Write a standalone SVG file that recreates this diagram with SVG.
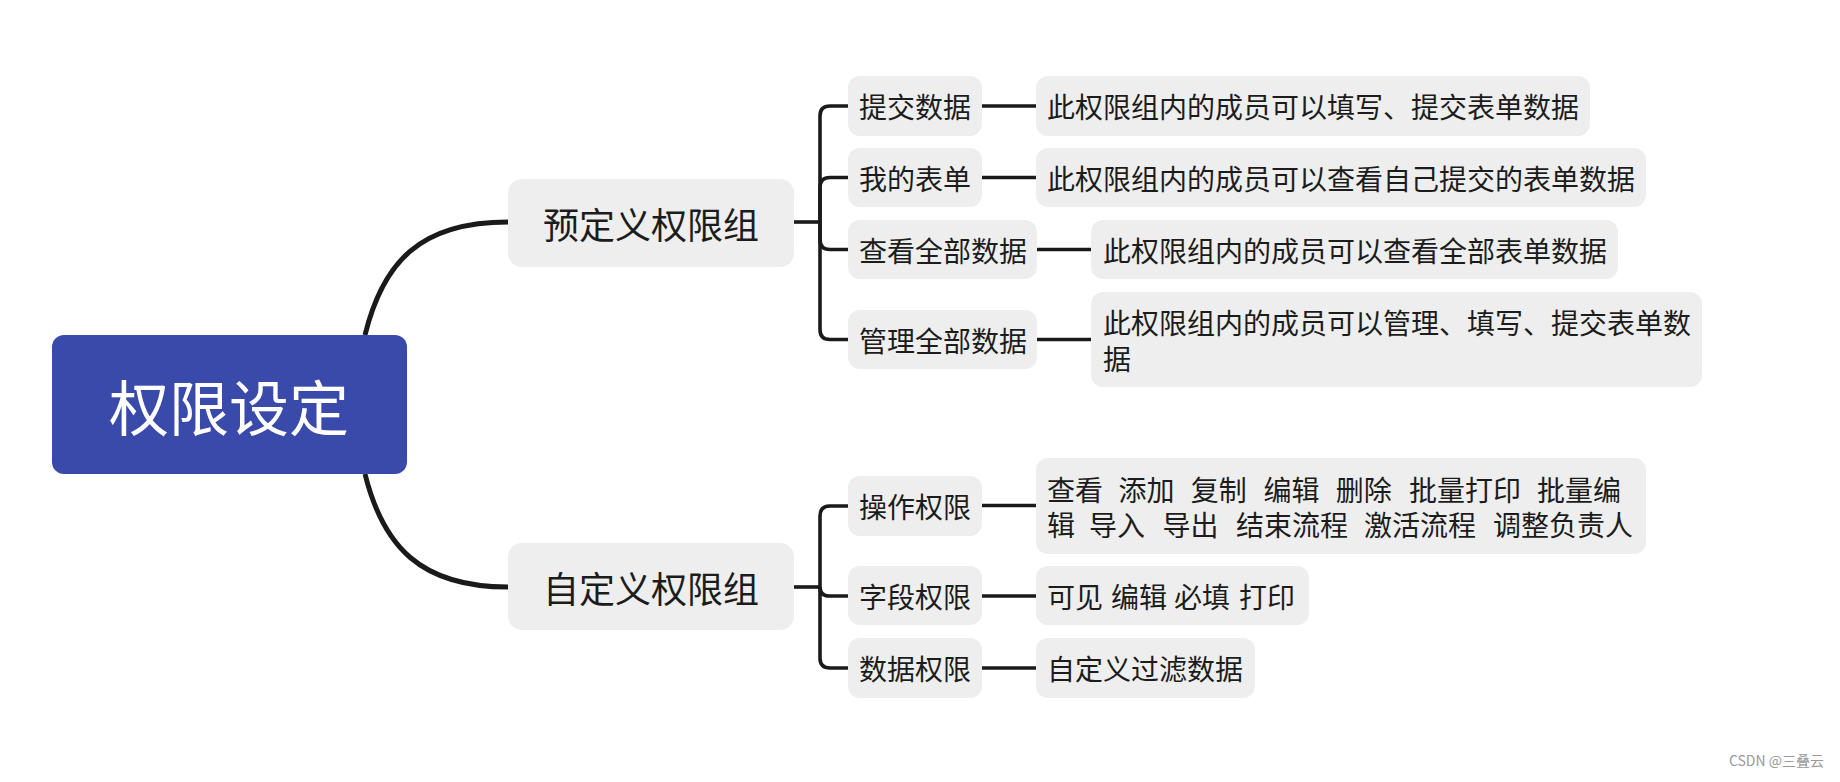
<svg xmlns="http://www.w3.org/2000/svg" width="1840" height="782" viewBox="0 0 1840 782">
<style>
.n{fill:#eeeeee}
.t{font-family:"Noto Sans CJK SC","Liberation Sans",sans-serif;fill:#1c1c1c;dominant-baseline:central}
.t2{font-size:28px}
.t1{font-size:36px}
.c{fill:none;stroke:#1a1a1a;stroke-width:3.6;stroke-linecap:butt}
.cr{fill:none;stroke:#1a1a1a;stroke-width:5}
</style>
<rect width="1840" height="782" fill="#ffffff"/>
<g id="connectors">
<path class="cr" d="M365 335 C383 262 420 222 508 222"/>
<path class="cr" d="M365 474 C383 546 420 587 508 587"/>
<path class="c" d="M794 222 H820"/>
<path class="c" d="M820 222 V116 Q820 106 830 106 H848"/>
<path class="c" d="M820 222 V187.5 Q820 177.5 830 177.5 H848"/>
<path class="c" d="M820 222 V239.5 Q820 249.5 830 249.5 H848"/>
<path class="c" d="M820 222 V329.5 Q820 339.5 830 339.5 H848"/>
<path class="c" d="M982 106 H1036"/>
<path class="c" d="M982 177.5 H1036"/>
<path class="c" d="M1037 249.5 H1091"/>
<path class="c" d="M1037 339.5 H1091"/>
<path class="c" d="M794 587 H820"/>
<path class="c" d="M820 587 V516 Q820 506 830 506 H848"/>
<path class="c" d="M820 587 Q820 596 829 596 H848"/>
<path class="c" d="M820 587 V658 Q820 668 830 668 H848"/>
<path class="c" d="M982 505.5 H1036"/>
<path class="c" d="M982 596 H1036"/>
<path class="c" d="M982 668 H1036"/>
</g>
<g id="root">
<rect x="52" y="335" width="355" height="139" rx="12" fill="#3a4aab"/>
<text x="229" y="404" text-anchor="middle" class="t" style="font-size:60px;fill:#ffffff">权限设定</text>
</g>
<g id="predef">
<rect class="n" x="508" y="179" width="286" height="88" rx="14"/>
<text class="t t1" x="651" y="223" text-anchor="middle">预定义权限组</text>
</g>
<g id="custom">
<rect class="n" x="508" y="543" width="286" height="87" rx="14"/>
<text class="t t1" x="651" y="587" text-anchor="middle">自定义权限组</text>
</g>
<g id="submit">
<rect class="n" x="848" y="76" width="134" height="60" rx="12"/>
<text class="t t2" x="859" y="106">提交数据</text>
</g>
<g id="myform">
<rect class="n" x="848" y="148" width="134" height="59" rx="12"/>
<text class="t t2" x="859" y="177.5">我的表单</text>
</g>
<g id="viewall">
<rect class="n" x="848" y="220" width="189" height="59" rx="12"/>
<text class="t t2" x="859" y="249.5">查看全部数据</text>
</g>
<g id="manageall">
<rect class="n" x="848" y="310" width="189" height="59" rx="12"/>
<text class="t t2" x="859" y="339.5">管理全部数据</text>
</g>
<g id="submit-desc">
<rect class="n" x="1036" y="76" width="554" height="60" rx="12"/>
<text class="t t2" x="1047" y="106">此权限组内的成员可以填写、提交表单数据</text>
</g>
<g id="myform-desc">
<rect class="n" x="1036" y="148" width="610" height="59" rx="12"/>
<text class="t t2" x="1047" y="177.5">此权限组内的成员可以查看自己提交的表单数据</text>
</g>
<g id="viewall-desc">
<rect class="n" x="1091" y="220" width="527" height="59" rx="12"/>
<text class="t t2" x="1103" y="249.5">此权限组内的成员可以查看全部表单数据</text>
</g>
<g id="manageall-desc">
<rect class="n" x="1091" y="292" width="611" height="95" rx="12"/>
<text class="t t2" x="1103" y="322">此权限组内的成员可以管理、填写、提交表单数</text>
<text class="t t2" x="1103" y="358">据</text>
</g>
<g id="op">
<rect class="n" x="848" y="476" width="134" height="60" rx="12"/>
<text class="t t2" x="859" y="506">操作权限</text>
</g>
<g id="field">
<rect class="n" x="848" y="566" width="134" height="59" rx="12"/>
<text class="t t2" x="859" y="595.5">字段权限</text>
</g>
<g id="data">
<rect class="n" x="848" y="638" width="134" height="60" rx="12"/>
<text class="t t2" x="859" y="668">数据权限</text>
</g>
<g id="op-desc">
<rect class="n" x="1036" y="458" width="610" height="96" rx="12"/>
<text class="t t2" y="489"><tspan x="1047">查看</tspan><tspan x="1118.5">添加</tspan><tspan x="1190.7">复制</tspan><tspan x="1263.5">编辑</tspan><tspan x="1335.7">删除</tspan><tspan x="1409">批量打印</tspan><tspan x="1537">批量编</tspan></text>
<text class="t t2" y="524"><tspan x="1047">辑</tspan><tspan x="1089">导入</tspan><tspan x="1162.5">导出</tspan><tspan x="1236">结束流程</tspan><tspan x="1364">激活流程</tspan><tspan x="1493">调整负责人</tspan></text>
</g>
<g id="field-desc">
<rect class="n" x="1036" y="566" width="273" height="59" rx="12"/>
<text class="t t2" y="595.5"><tspan x="1047">可见</tspan><tspan x="1111">编辑</tspan><tspan x="1174">必填</tspan><tspan x="1239">打印</tspan></text>
</g>
<g id="data-desc">
<rect class="n" x="1036" y="638" width="219" height="60" rx="12"/>
<text class="t t2" x="1047" y="668">自定义过滤数据</text>
</g>
<text x="1824" y="766" text-anchor="end" style="font-family:'Noto Sans CJK SC','Liberation Sans',sans-serif;font-size:14px;fill:#999999">CSDN @三叠云</text>
</svg>
